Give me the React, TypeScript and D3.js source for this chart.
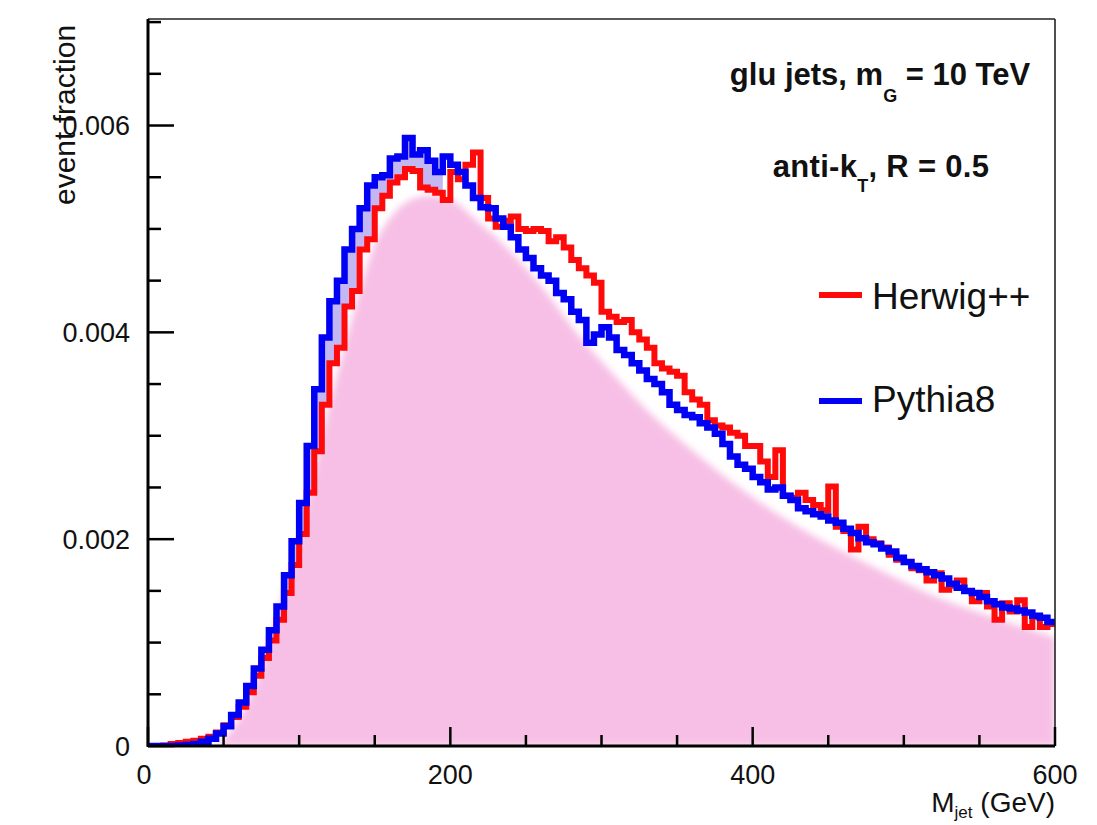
import React from "react";
import * as d3 from "d3";

// bin lower edges in GeV (5 GeV bins)
const binEdges: number[] = d3.range(0, 600, 5);

// event fraction, in units of 1e-3
const herwig: number[] = [
  0, 0, 0.005, 0.02, 0.03, 0.04, 0.05, 0.07, 0.09, 0.13,
  0.2, 0.28, 0.38, 0.52, 0.68, 0.85, 1.02, 1.22, 1.48, 1.75,
  2.05, 2.45, 2.85, 3.3, 3.7, 3.85, 4.25, 4.4, 4.8, 4.9,
  5.2, 5.32, 5.45, 5.5, 5.58, 5.56, 5.4, 5.38, 5.35, 5.28,
  5.55, 5.48, 5.62, 5.74, 5.3, 5.1, 5.02, 5.08, 5.12, 5.0,
  4.98, 5.0, 4.98, 4.88, 4.92, 4.82, 4.7, 4.62, 4.55, 4.48,
  4.2, 4.15, 4.1, 4.12, 4.0, 3.93, 3.85, 3.7, 3.65, 3.62,
  3.58, 3.42, 3.35, 3.3, 3.15, 3.1, 3.08, 3.03, 3.0, 2.9,
  2.9, 2.75, 2.6, 2.86, 2.42, 2.4, 2.45, 2.38, 2.33, 2.28,
  2.51, 2.12, 2.08, 1.9, 2.12, 2.0, 1.96, 1.92, 1.85, 1.8,
  1.78, 1.72, 1.7, 1.6, 1.67, 1.51, 1.55, 1.6, 1.5, 1.4,
  1.48, 1.35, 1.22, 1.38, 1.3, 1.41, 1.15, 1.25, 1.15, 1.18,
];

const pythia: number[] = [
  0, 0, 0, 0, 0.005, 0.01, 0.02, 0.04, 0.07, 0.12,
  0.19, 0.3, 0.42, 0.58, 0.75, 0.93, 1.12, 1.35, 1.65, 1.98,
  2.35, 2.9, 3.45, 3.95, 4.3, 4.5, 4.8, 5.0, 5.2, 5.42,
  5.5, 5.52, 5.68, 5.7, 5.88, 5.72, 5.76, 5.66, 5.55, 5.7,
  5.62, 5.55, 5.42, 5.3, 5.21, 5.2, 5.1, 5.02, 4.92, 4.8,
  4.72, 4.62, 4.55, 4.5, 4.38, 4.32, 4.2, 4.12, 3.9, 3.98,
  4.05, 3.95, 3.83, 3.78, 3.7, 3.63, 3.55, 3.5, 3.42, 3.3,
  3.25, 3.2, 3.18, 3.12, 3.08, 3.02, 2.92, 2.8, 2.72, 2.68,
  2.6, 2.55, 2.48, 2.5, 2.42, 2.38, 2.3, 2.27, 2.24, 2.22,
  2.18, 2.16, 2.1, 2.06, 2.01, 1.97, 1.95, 1.91, 1.88, 1.82,
  1.78, 1.74, 1.71, 1.68, 1.65, 1.62, 1.57, 1.53, 1.5, 1.48,
  1.44, 1.4, 1.37, 1.34, 1.33, 1.31, 1.29, 1.26, 1.24, 1.2,
];

// smooth reference distribution (pink), GeV and 1e-3
const smoothX: number[] = [0, 30, 45, 55, 65, 75, 87, 100, 110, 120, 129, 140, 150, 160, 170, 185, 200, 220, 240, 260, 285, 300, 330, 360, 391, 430, 480, 520, 560, 600];
const smoothY: number[] = [0, 0, 0.02, 0.15, 0.4, 0.75, 1.35, 2.0, 2.65, 3.3, 3.8, 4.4, 4.85, 5.1, 5.25, 5.32, 5.28, 5.05, 4.78, 4.45, 3.97, 3.72, 3.25, 2.86, 2.5, 2.12, 1.73, 1.45, 1.24, 1.05];

const xMajorTicks: number[] = [0, 200, 400, 600];
const xMajorLabels: string[] = ["0", "200", "400", "600"];
const xMinorTicks: number[] = [50, 100, 150, 250, 300, 350, 450, 500, 550];
const yMajorTicks: number[] = [0, 2, 4, 6];
const yMajorLabels: string[] = ["0", "0.002", "0.004", "0.006"];
const yMinorTicks: number[] = [0.5, 1, 1.5, 2.5, 3, 3.5, 4.5, 5, 5.5, 6.5, 7];

const FONT = "'Liberation Sans', Arial, Helvetica, sans-serif";

export default function App() {
  const left = 148, right = 1055, top = 19, bottom = 746;
  const x = d3.scaleLinear().domain([0, 600]).range([left, right]);
  const y = d3.scaleLinear().domain([0, 7.03]).range([bottom, top]);

  const stepPts = (vals: number[]) => {
    const pts: [number, number][] = binEdges.map((e, i) => [e, vals[i]]);
    pts.push([600, vals[vals.length - 1]]);
    return pts;
  };

  const line = d3
    .line<[number, number]>()
    .x((d) => x(d[0]))
    .y((d) => y(d[1]))
    .curve(d3.curveStepAfter);

  const smoothArea = d3
    .area<number>()
    .x((_, i) => x(smoothX[i]))
    .y0(y(0))
    .y1((d) => y(d))
    .curve(d3.curveMonotoneX);

  // lavender region between blue (above) and red on the rising edge
  const betweenPts = binEdges.map((e, i) => ({ e, r: herwig[i], b: pythia[i] }));
  const between = d3
    .area<{ e: number; r: number; b: number }>()
    .defined((d) => d.b > d.r && d.e < 200 && d.e > 60)
    .x((d) => x(d.e))
    .y0((d) => y(d.r))
    .y1((d) => y(d.b))
    .curve(d3.curveStepAfter);

  return (
    <svg width={1097} height={825} style={{ position: "absolute", left: 0, top: 0, background: "#fff" }}>
      <defs>
        <filter id="blur" x="-5%" y="-5%" width="110%" height="110%">
          <feGaussianBlur stdDeviation="3.5" />
        </filter>
        <clipPath id="plot">
          <rect x={left} y={top} width={right - left} height={bottom - top} />
        </clipPath>
      </defs>
      <rect x={0} y={0} width={1097} height={825} fill="#fff" />
      <g clipPath="url(#plot)">
        <path d={smoothArea(smoothY) || ""} fill="#f7bfe5" filter="url(#blur)" />
        <path d={between(betweenPts) || ""} fill="#c2b6f3" />
        <path d={line(stepPts(herwig)) || ""} fill="none" stroke="#ff0a0a" strokeWidth={6} />
        <path d={line(stepPts(pythia)) || ""} fill="none" stroke="#0000f5" strokeWidth={6.5} />
      </g>
      {/* frame */}
      <line x1={left} x2={right} y1={top} y2={top} stroke="#222" strokeWidth={1.6} />
      <line x1={right} x2={right} y1={top} y2={bottom} stroke="#222" strokeWidth={1.6} />
      <line x1={left} x2={left} y1={top} y2={bottom + 1} stroke="#000" strokeWidth={3} />
      <line x1={left} x2={right} y1={bottom} y2={bottom} stroke="#000" strokeWidth={3} />
      {/* y ticks */}
      {yMajorTicks.map((t) => (
        <line key={"ym" + t} x1={left} x2={left + 26} y1={y(t)} y2={y(t)} stroke="#000" strokeWidth={2.5} />
      ))}
      {yMinorTicks.map((t) => (
        <line key={"yn" + t} x1={left} x2={left + 13} y1={y(t)} y2={y(t)} stroke="#000" strokeWidth={2.5} />
      ))}
      {yMajorTicks.map((t, i) => (
        <text key={"yl" + t} x={130} y={y(t)} dy="0.36em" textAnchor="end" fontFamily={FONT} fontSize={27} fill="#111">
          {yMajorLabels[i]}
        </text>
      ))}
      {/* x ticks */}
      {xMajorTicks.map((t) => (
        <line key={"xm" + t} x1={x(t)} x2={x(t)} y1={bottom} y2={bottom - 19} stroke="#000" strokeWidth={2.5} />
      ))}
      {xMinorTicks.map((t) => (
        <line key={"xn" + t} x1={x(t)} x2={x(t)} y1={bottom} y2={bottom - 11} stroke="#000" strokeWidth={2.5} />
      ))}
      {xMajorTicks.map((t, i) => (
        <text key={"xl" + t} x={x(t) - (t === 0 ? 4 : 0)} y={784} textAnchor="middle" fontFamily={FONT} fontSize={27} fill="#111">
          {xMajorLabels[i]}
        </text>
      ))}
      {/* axis titles */}
      <text transform="translate(75,205) rotate(-90)" fontFamily={FONT} fontSize={30} fill="#111">
        event fraction
      </text>
      <text x={1055} y={812} textAnchor="end" fontFamily={FONT} fontSize={28} fill="#111">
        M<tspan fontSize={17} dy={6}>jet</tspan>
        <tspan dy={-6}> (GeV)</tspan>
      </text>
      {/* annotations */}
      <text x={880} y={85} textAnchor="middle" fontFamily={FONT} fontSize={31} fontWeight="bold" fill="#111">
        glu jets, m<tspan fontSize={18} dy={17}>G</tspan>
        <tspan dy={-17}> = 10 TeV</tspan>
      </text>
      <text x={881} y={177} textAnchor="middle" fontFamily={FONT} fontSize={31} fontWeight="bold" fill="#111" letterSpacing={0.3}>
        anti-k<tspan fontSize={18} dy={15}>T</tspan>
        <tspan dy={-15}>, R = 0.5</tspan>
      </text>
      {/* legend */}
      <line x1={819} x2={862} y1={295} y2={295} stroke="#ff0a0a" strokeWidth={6} />
      <text x={872} y={309} fontFamily={FONT} fontSize={37} fill="#111">
        Herwig++
      </text>
      <line x1={819} x2={862} y1={401} y2={401} stroke="#0000f5" strokeWidth={6} />
      <text x={872} y={412} fontFamily={FONT} fontSize={37} fill="#111">
        Pythia8
      </text>
    </svg>
  );
}
